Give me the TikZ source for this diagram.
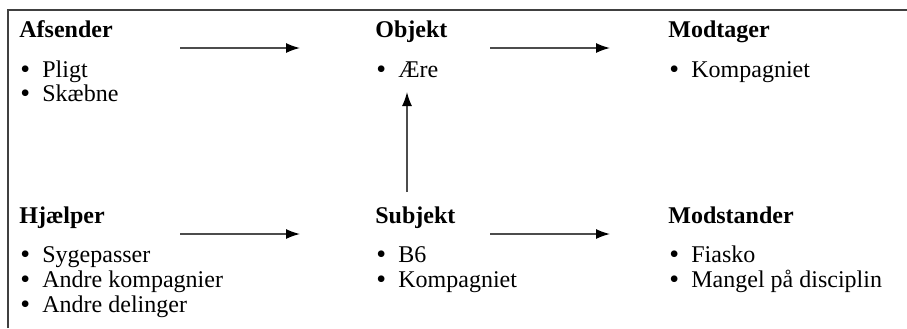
\documentclass[tikz,border=0pt]{standalone}
\usepackage{fontspec}
\setmainfont{Liberation Serif}
\usepackage{tikz}
\usetikzlibrary{arrows.meta, positioning}

\newcommand{\pkt}[1]{\makebox[11pt][l]{\smash{\raisebox{-0.9pt}{\fontsize{14}{14}\selectfont•}}}#1}

\begin{document}
\begin{tikzpicture}[x=0.5pt,y=-0.5pt,
  txt/.style={anchor=base west, inner sep=0pt, font=\fontsize{12}{14}\selectfont},
  hd/.style={txt, font=\fontsize{12}{14}\selectfont\bfseries},
  pil/.style={-{Latex[length=7pt,width=5pt,fill=black,color=black]}, line width=0.75pt, draw=black!70}]
  \useasboundingbox (0,0) rectangle (907,328);
  \draw[line width=1pt, black!75] (8,328) -- (8,9.5) -- (907,9.5);
     \begin{scope}[xshift=9.5pt]
    \node[hd] (afs) at (0,37) {Afsender};
    \node[txt] (afs1) at (1,77) {\pkt{Pligt}};
    \node[txt] (afs2) at (1,101) {\pkt{Skæbne}};
    \node[hd] (hj) at (0,223) {Hjælper};
    \node[txt] (hj1) at (1,262) {\pkt{Sygepasser}};
    \node[txt] (hj2) at (1,287) {\pkt{Andre kompagnier}};
    \node[txt] (hj3) at (1,312) {\pkt{Andre delinger}};
     \end{scope}
     \begin{scope}[xshift=187.5pt]
    \node[hd] (obj) at (0,37) {Objekt};
    \node[txt] (obj1) at (1,77) {\pkt{Ære}};
    \node[hd] (sub) at (0,223) {Subjekt};
    \node[txt] (sub1) at (1,262) {\pkt{B6}};
    \node[txt] (sub2) at (1,287) {\pkt{Kompagniet}};
     \end{scope}
     \begin{scope}[xshift=334pt]
    \node[hd] (mod) at (0,37) {Modtager};
    \node[txt] (mod1) at (1,77) {\pkt{Kompagniet}};
    \node[hd] (ms) at (0,223) {Modstander};
    \node[txt] (ms1) at (1,262) {\pkt{Fiasko}};
    \node[txt] (ms2) at (1,287) {\pkt{Mangel på disciplin}};
     \end{scope}
  % pile
  \coordinate (a1) at (180,48);  \coordinate (a2) at (300,48);
  \coordinate (b1) at (490,48);  \coordinate (b2) at (610,48);
  \coordinate (c1) at (180,234); \coordinate (c2) at (300,234);
  \coordinate (d1) at (490,234); \coordinate (d2) at (610,234);
  \coordinate (e1) at (407,192); \coordinate (e2) at (407,92);
  \draw[pil] (a1)--(a2);
  \draw[pil] (b1)--(b2);
  \draw[pil] (c1)--(c2);
  \draw[pil] (d1)--(d2);
  \draw[pil] (e1)--(e2);
\end{tikzpicture}
\end{document}
